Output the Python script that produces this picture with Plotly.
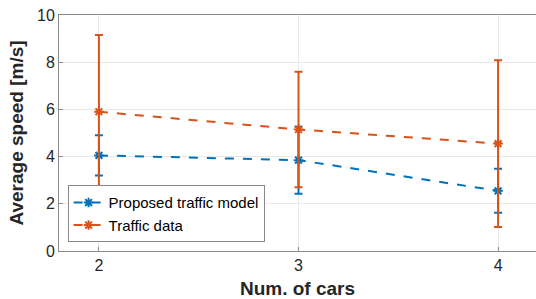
import plotly.graph_objects as go

cars = [2, 3, 4]
model_mean = [4.05, 3.85, 2.55]
model_err = [0.85, 1.42, 0.93]
data_mean = [5.9, 5.15, 4.55]
data_err = [3.25, 2.45, 3.53]

blue = "#0072BD"
orange = "#D95319"
FONT = "Liberation Sans, Arial, Helvetica"

fig = go.Figure()
fig.add_trace(go.Scatter(
    x=cars, y=model_mean, name="Proposed traffic model",
    mode="lines+markers",
    line=dict(color=blue, width=2, dash="dash"),
    marker=dict(symbol="asterisk-open", size=8, line=dict(color=blue, width=2)),
    error_y=dict(type="data", array=model_err, color=blue, thickness=2, width=4),
))
fig.add_trace(go.Scatter(
    x=cars, y=data_mean, name="Traffic data",
    mode="lines+markers",
    line=dict(color=orange, width=2, dash="dash"),
    marker=dict(symbol="asterisk-open", size=8, line=dict(color=orange, width=2)),
    error_y=dict(type="data", array=data_err, color=orange, thickness=2, width=4),
))

axis_common = dict(
    showline=True, linecolor="#8a8a8a", linewidth=1, mirror=True,
    ticks="inside", ticklen=4, tickcolor="#8a8a8a",
    showgrid=True, gridcolor="#E8E8E8", zeroline=False,
    tickfont=dict(family=FONT, size=16, color="#262626"),
    automargin=False,
)

fig.update_layout(
    width=536, height=299,
    margin=dict(l=59, r=0, t=15, b=48),
    paper_bgcolor="white", plot_bgcolor="white",
    xaxis=dict(range=[1.8, 4.19], tickvals=[2, 3, 4],
               title=dict(text="<b>Num. of cars</b>", standoff=9,
                          font=dict(family=FONT, size=19, color="#262626")),
               **axis_common),
    yaxis=dict(range=[0, 10], tickvals=[0, 2, 4, 6, 8, 10],
               title=dict(text="<b>Average speed [m/s]</b>", standoff=8,
                          font=dict(family=FONT, size=19, color="#262626")),
               **axis_common),
    legend=dict(x=0.018, y=0.037, xanchor="left", yanchor="bottom",
                bgcolor="white", bordercolor="#8a8a8a", borderwidth=1,
                font=dict(family=FONT, size=15, color="black"),
                tracegroupgap=0),
    showlegend=True,
)

fig.write_html("out.html", config={"displayModeBar": False},
               post_script="document.body.style.margin='0';document.body.style.padding='0';")
